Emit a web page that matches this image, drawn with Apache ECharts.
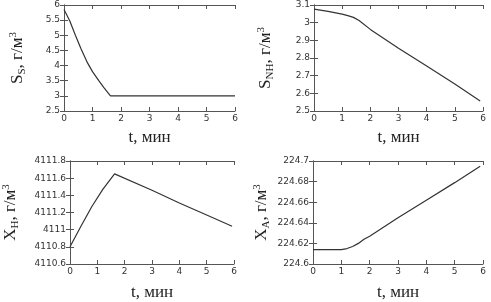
<!DOCTYPE html>
<html><head><meta charset="utf-8">
<script src="https://cdn.jsdelivr.net/npm/echarts@6/dist/echarts.min.js"></script>
<style>html,body{margin:0;padding:0;background:#fff}#c{width:491px;height:302px}</style>
</head><body><div id="c"></div>
<script>
// Panel 1: S_S
const tSS = [0, 0.2, 0.4, 0.6, 0.83, 1.0, 1.22, 1.4, 1.63, 2, 3, 4, 5, 6];
const vSS = [5.85, 5.48, 5.0, 4.55, 4.08, 3.8, 3.5, 3.27, 3.0, 3, 3, 3, 3, 3];
// Panel 2: S_NH
const tSNH = [0, 0.5, 1, 1.2, 1.4, 1.6, 2, 3, 4, 5, 5.9];
const vSNH = [3.077, 3.064, 3.048, 3.04, 3.03, 3.012, 2.962, 2.855, 2.755, 2.653, 2.557];
// Panel 3: X_H
const tXH = [0, 0.4, 0.8, 1.2, 1.63, 3, 4, 5, 5.93];
const vXH = [4110.8, 4111.04, 4111.27, 4111.47, 4111.65, 4111.46, 4111.31, 4111.17, 4111.04];
// Panel 4: X_A
const tXA = [0, 0.5, 1, 1.2, 1.4, 1.6, 1.8, 2, 3, 4, 5, 5.9];
const vXA = [224.614, 224.614, 224.614, 224.615, 224.617, 224.62, 224.624, 224.627, 224.645, 224.662, 224.679, 224.695];

const xName = 't, мин';
const yNames = [['S','S'], ['S','NH'], ['X','H'], ['X','A']];
const yRanges = [[2.5, 6, 0.5], [2.5, 3.1, 0.1], [4110.6, 4111.8, 0.2], [224.6, 224.7, 0.02]];

const grids = [
  {left: 64, top: 5, width: 171, height: 106},
  {left: 314, top: 5, width: 169, height: 106},
  {left: 64, top: 161, width: 170, height: 106},
  {left: 313, top: 161, width: 170, height: 106}
];
const yGaps = [36, 38, 49, 41];
const xGaps = [18, 18, 20, 20];
const seriesData = [[tSS, vSS], [tSNH, vSNH], [tXH, vXH], [tXA, vXA]];

const axisCol = '#555';
const lbl = {fontFamily: 'DejaVu Sans', fontSize: 9, color: '#333'};
const serif = 'Liberation Serif';
const rich = {
  b: {fontFamily: serif, fontSize: 17, color: '#222'},
  s: {fontFamily: serif, fontSize: 11, color: '#222', padding: [8, 0, 0, 0]},
  p: {fontFamily: serif, fontSize: 11, color: '#222', padding: [0, 0, 9, 0]}
};
const fmt = v => String(+v.toFixed(4));

const xAxis = [], yAxis = [], series = [];
grids.forEach((g, i) => {
  const [mn, mx, iv] = yRanges[i];
  xAxis.push({
    gridIndex: i, type: 'value', min: 0, max: 6, interval: 1, position: 'bottom',
    axisLine: {show: true, lineStyle: {color: axisCol, width: 1}},
    axisTick: {show: true, inside: true, length: 4, lineStyle: {color: axisCol}},
    axisLabel: Object.assign({margin: 3, formatter: fmt}, lbl),
    splitLine: {show: false},
    name: xName, nameLocation: 'middle', nameGap: xGaps[i],
    nameTextStyle: {fontFamily: serif, fontSize: 17, color: '#222'}
  });
  xAxis.push({
    gridIndex: i, type: 'value', min: 0, max: 6, interval: 1, position: 'top',
    axisLine: {show: true, lineStyle: {color: axisCol, width: 1}},
    axisTick: {show: true, inside: true, length: 4, lineStyle: {color: axisCol}},
    axisLabel: {show: false}, splitLine: {show: false}
  });
  const [a, b] = yNames[i];
  yAxis.push({
    gridIndex: i, type: 'value', min: mn, max: mx, interval: iv, position: 'left',
    axisLine: {show: true, lineStyle: {color: axisCol, width: 1}},
    axisTick: {show: true, inside: true, length: 4, lineStyle: {color: axisCol}},
    axisLabel: Object.assign({margin: 4, formatter: fmt}, lbl),
    splitLine: {show: false},
    name: '{b|' + a + '}{s|' + b + '}{b|, г/м}{p|3}', nameLocation: 'middle', nameGap: yGaps[i], nameRotate: 90,
    nameTextStyle: {rich: rich}
  });
  yAxis.push({
    gridIndex: i, type: 'value', min: mn, max: mx, interval: iv, position: 'right',
    axisLine: {show: true, lineStyle: {color: axisCol, width: 1}},
    axisTick: {show: true, inside: true, length: 4, lineStyle: {color: axisCol}},
    axisLabel: {show: false}, splitLine: {show: false}
  });
  const [ts, vs] = seriesData[i];
  series.push({
    type: 'line', xAxisIndex: 2 * i, yAxisIndex: 2 * i, showSymbol: false, symbol: 'none',
    smooth: false, lineStyle: {color: '#333', width: 1.2},
    data: ts.map((t, k) => [t, vs[k]]), animation: false
  });
});

const chart = echarts.init(document.getElementById('c'), null, {renderer: 'canvas'});
chart.setOption({animation: false, grid: grids, xAxis, yAxis, series});
</script></body></html>
